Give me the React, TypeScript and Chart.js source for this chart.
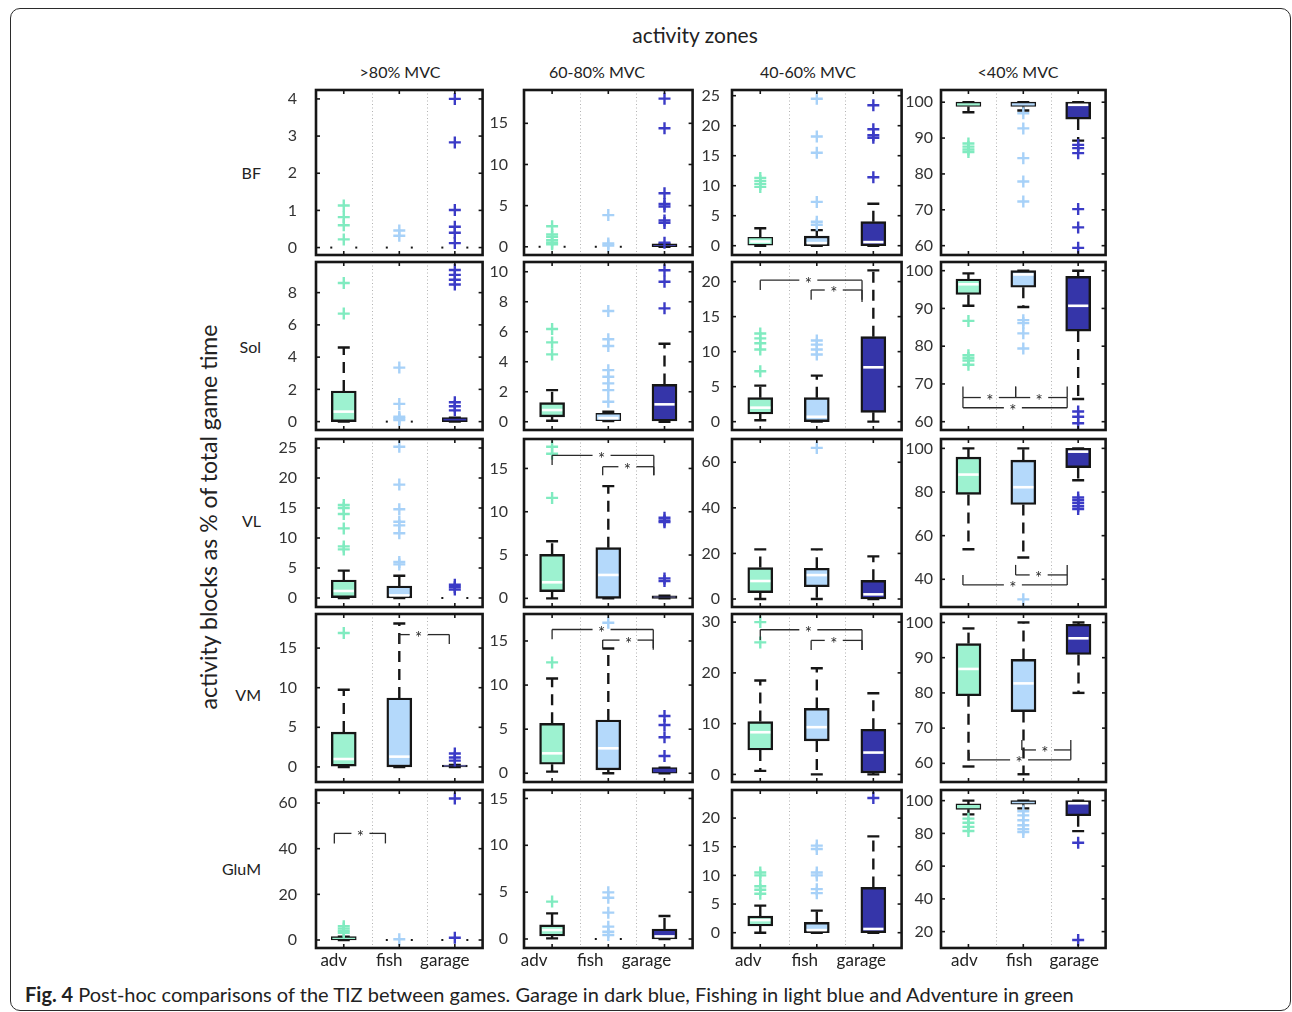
import { useEffect, useRef } from 'react';
import { Chart, registerables } from 'chart.js';

Chart.register(...registerables);

const FONT = 'Lato';

// names
const GAMES = ['adv', 'fish', 'garage'];
const ZONES = ['>80% MVC', '60-80% MVC', '40-60% MVC', '<40% MVC'];
const MUSCLES = ['BF', 'Sol', 'VL', 'VM', 'GluM'];

// box stats per game: [lower whisker, q1, median, q3, upper whisker]
// outliers per game; significance brackets: [x1, x2, level, leg end 1, leg end 2, star x]

// BF
const BF_Y = [[-0.2, 4.24], [-1.0, 19.05], [-1.55, 25.95], [57.4, 103.4]];
const BF_TICKS = [[0, 1, 2, 3, 4], [0, 5, 10, 15], [0, 5, 10, 15, 20, 25], [60, 70, 80, 90, 100]];
const BF_Z80_BOX = [[0, 0, 0, 0, 0], [0, 0, 0, 0, 0], [0, 0, 0, 0, 0]];
const BF_Z80_OUT = [[1.13, 0.82, 0.6, 0.22], [0.46, 0.32], [4.0, 2.83, 1.01, 0.56, 0.4, 0.12]];
const BF_Z60_BOX = [[0, 0, 0, 0, 0], [0, 0, 0, 0, 0], [0, 0, 0.05, 0.35, 0.35]];
const BF_Z60_OUT = [[2.5, 1.5, 1.2, 0.8, 0.5, 0.3], [3.85, 0.4, 0.15], [18.0, 14.4, 6.5, 5.2, 4.9, 3.2, 2.9, 0.5]];
const BF_Z40_BOX = [[0, 0.1, 0.7, 1.4, 2.9], [0, 0, 0.1, 1.6, 2.6], [0, 0, 0.6, 4.0, 7.0]];
const BF_Z40_OUT = [[11.3, 10.8, 10.3, 9.8], [24.5, 18.2, 15.5, 7.3, 4.0, 3.5], [23.4, 19.4, 18.4, 18.0, 11.4]];
const BF_ZL_BOX = [[97.2, 98.8, 99.6, 100, 100], [97.7, 98.8, 99.7, 100, 100], [89.3, 95.3, 99.3, 100, 100]];
const BF_ZL_OUT = [[88.5, 87.6, 86.8, 86.1], [96.9, 92.7, 84.4, 77.9, 72.3], [88.1, 87.2, 85.8, 70.2, 65.1, 59.4]];

// Sol
const SOL_Y = [[-0.52, 9.9], [-0.55, 10.65], [-1.19, 22.8], [57.8, 102.3]];
const SOL_TICKS = [[0, 2, 4, 6, 8], [0, 2, 4, 6, 8, 10], [0, 5, 10, 15, 20], [60, 70, 80, 90, 100]];
const SOL_Z80_BOX = [[0, 0, 0.62, 1.9, 4.6], [0, 0, 0, 0, 0], [0, 0, 0.05, 0.25, 0.25]];
const SOL_Z80_OUT = [[8.6, 6.7], [3.35, 1.1, 0.3, 0.2, 0.1], [9.4, 9.1, 8.8, 8.5, 1.2, 0.95, 0.7]];
const SOL_Z60_BOX = [[0.07, 0.33, 0.78, 1.27, 2.11], [0.05, 0.07, 0.12, 0.56, 0.67], [0, 0.05, 1.16, 2.49, 5.2]];
const SOL_Z60_OUT = [[6.18, 5.29, 4.49], [7.38, 5.5, 5.05, 3.44, 3.0, 2.56, 2.11, 1.33], [10.1, 9.33, 7.56]];
const SOL_Z40_BOX = [[0.2, 1.1, 2.0, 3.43, 5.14], [0, 0, 0.7, 3.43, 6.57], [0, 1.33, 7.76, 12.14, 21.6]];
const SOL_Z40_OUT = [[12.6, 11.9, 11.2, 10.3, 7.2], [11.6, 11.0, 10.3, 9.6], []];
const SOL_Z40_SIG = [[1, 2.8, 20.2, 18.8, 17.1, 1.85], [1.9, 2.8, 18.8, 17.4, 17.4, 2.3]];
const SOL_ZL_BOX = [[90.7, 93.7, 96.4, 97.8, 99.3], [90.4, 95.6, 99.0, 100, 100], [66, 84.0, 90.7, 98.5, 100]];
const SOL_ZL_OUT = [[86.7, 77.6, 76.9, 76.2, 75.1], [86.9, 86.1, 83.4, 79.4], [62.7, 61.3, 59.6]];
const SOL_ZL_SIG = [[0.9, 1.86, 66.4, 69.3, 69.3, 1.39], [1.86, 2.8, 66.4, 69.3, 69.3, 2.29], [0.9, 2.8, 63.7, 66.4, 66.4, 1.81]];

// VL
const VL_Y = [[-1.5, 26.5], [-1.0, 18.4], [-3.5, 70.2], [27.3, 104.3]];
const VL_TICKS = [[0, 5, 10, 15, 20, 25], [0, 5, 10, 15], [0, 20, 40, 60], [40, 60, 80, 100]];
const VL_Z80_BOX = [[0, 0.06, 1.17, 3.0, 4.56], [0, 0, 0.4, 2.0, 3.7], [0, 0, 0, 0, 0]];
const VL_Z80_OUT = [[15.5, 15.0, 14.0, 11.6, 8.6, 8.1], [25.2, 18.9, 14.8, 12.7, 12.1, 10.8, 6.0, 5.6], [2.2, 1.8, 1.4]];
const VL_Z60_BOX = [[0, 0.77, 1.85, 5.08, 6.6], [0, 0, 2.7, 5.85, 12.96], [0, 0, 0.1, 0.3, 0.3]];
const VL_Z60_OUT = [[17.5, 16.7, 11.6], [], [9.3, 9.0, 8.8, 2.3, 2.0]];
const VL_Z60_SIG = [[1, 2.81, 16.5, 15.4, 14.2, 1.88], [1.9, 2.81, 15.2, 14.2, 14.2, 2.34]];
const VL_Z40_BOX = [[0, 2.8, 7.9, 13.8, 21.8], [0, 5.4, 10.5, 13.5, 21.8], [0, 0, 2.05, 8.2, 18.7]];
const VL_Z40_OUT = [[], [66.3], []];
const VL_ZL_BOX = [[53.8, 78.9, 88.0, 96.0, 100], [50, 74.3, 82.2, 94.6, 100], [85.4, 91.2, 98.5, 100, 100]];
const VL_ZL_OUT = [[], [30.8], [77.5, 76.2, 74.9, 73.5, 72.2]];
const VL_ZL_SIG = [[1.86, 2.8, 42, 46.6, 46.6, 2.28], [0.9, 2.8, 37.4, 42, 42, 1.81]];

// VM
const VM_Y = [[-1.9, 19.3], [-0.99, 18.06], [-1.5, 31.6], [54.7, 102.4]];
const VM_TICKS = [[0, 5, 10, 15], [0, 5, 10, 15], [0, 10, 20, 30], [60, 70, 80, 90, 100]];
const VM_Z80_BOX = [[0, 0.1, 1.0, 4.4, 9.75], [0, 0, 1.3, 8.7, 18.1], [0, 0, 0.1, 0.25, 0.25]];
const VM_Z80_OUT = [[16.9], [], [1.7, 1.2, 0.8]];
const VM_Z80_SIG = [[2, 2.9, 16.7, 15.5, 15.5, 2.35]];
const VM_Z60_BOX = [[0.19, 1.02, 2.26, 5.66, 10.75], [0, 0.38, 2.83, 6.04, 14.15], [0, 0, 0.2, 0.64, 0.64]];
const VM_Z60_OUT = [[12.57], [17.06], [6.49, 5.47, 4.08, 1.96]];
const VM_Z60_SIG = [[1, 2.8, 16.3, 15.2, 14.0, 1.88], [1.9, 2.8, 15.1, 14.2, 14.2, 2.36]];
const VM_Z40_BOX = [[0.7, 4.8, 8.3, 10.4, 18.5], [0, 6.6, 9.3, 13.0, 20.9], [0, 0.3, 4.3, 8.9, 16.0]];
const VM_Z40_OUT = [[30, 26], [], []];
const VM_Z40_SIG = [[1, 2.8, 28.5, 26.5, 24.5, 1.85], [1.9, 2.8, 26.4, 24.5, 24.5, 2.3]];
const VM_ZL_BOX = [[59.1, 79.2, 86.8, 94.0, 98.3], [56.9, 74.7, 82.7, 89.5, 100], [80, 90.9, 95.5, 99.5, 100]];
const VM_ZL_OUT = [[], [], []];
const VM_ZL_SIG = [[1.97, 2.86, 63.8, 66.6, 66.6, 2.39], [1.01, 2.86, 61.0, 63.0, 63.8, 1.92]];

// GluM
const GLUM_Y = [[-3.5, 65.7], [-0.96, 15.9], [-2.67, 24.9], [10, 106.5]];
const GLUM_TICKS = [[0, 20, 40, 60], [0, 5, 10, 15], [0, 5, 10, 15, 20], [20, 40, 60, 80, 100]];
const GLUM_Z80_BOX = [[0, 0, 0.5, 1.5, 1.5], [0, 0, 0, 0, 0], [0, 0, 0, 0, 0]];
const GLUM_Z80_OUT = [[6.0, 5.0, 4.0, 3.2], [0.3], [62, 1.0]];
const GLUM_Z80_SIG = [[0.83, 1.75, 46.7, 42.3, 42.3, 1.3]];
const GLUM_Z60_BOX = [[0.07, 0.32, 0.96, 1.5, 2.74], [0, 0, 0, 0, 0], [0, 0, 0.05, 1.07, 2.46]];
const GLUM_Z60_OUT = [[3.99], [4.98, 4.41, 2.81, 1.32, 0.78, 0.43], []];
const GLUM_Z40_BOX = [[0, 1.17, 2.2, 2.9, 4.72], [0, 0, 0.1, 1.8, 3.85], [0, 0, 0.65, 7.9, 16.8]];
const GLUM_Z40_OUT = [[10.5, 10.0, 8.1, 7.5, 6.8], [15.2, 14.6, 10.5, 10.0, 7.6, 6.9], [23.5]];
const GLUM_ZL_BOX = [[91.6, 94.7, 96.3, 98, 100], [95.3, 97.8, 98.5, 100, 100], [81.4, 90.8, 99, 100, 100]];
const GLUM_ZL_OUT = [[89, 86.5, 84, 81.5], [93.5, 91, 88, 85, 82.5, 80.8], [74.3, 14.9]];

const PANEL_BOX = [
  [BF_Z80_BOX, BF_Z60_BOX, BF_Z40_BOX, BF_ZL_BOX],
  [SOL_Z80_BOX, SOL_Z60_BOX, SOL_Z40_BOX, SOL_ZL_BOX],
  [VL_Z80_BOX, VL_Z60_BOX, VL_Z40_BOX, VL_ZL_BOX],
  [VM_Z80_BOX, VM_Z60_BOX, VM_Z40_BOX, VM_ZL_BOX],
  [GLUM_Z80_BOX, GLUM_Z60_BOX, GLUM_Z40_BOX, GLUM_ZL_BOX],
];
const PANEL_OUT = [
  [BF_Z80_OUT, BF_Z60_OUT, BF_Z40_OUT, BF_ZL_OUT],
  [SOL_Z80_OUT, SOL_Z60_OUT, SOL_Z40_OUT, SOL_ZL_OUT],
  [VL_Z80_OUT, VL_Z60_OUT, VL_Z40_OUT, VL_ZL_OUT],
  [VM_Z80_OUT, VM_Z60_OUT, VM_Z40_OUT, VM_ZL_OUT],
  [GLUM_Z80_OUT, GLUM_Z60_OUT, GLUM_Z40_OUT, GLUM_ZL_OUT],
];
const PANEL_SIG = [
  [[], [], [], []],
  [[], [], SOL_Z40_SIG, SOL_ZL_SIG],
  [[], VL_Z60_SIG, [], VL_ZL_SIG],
  [VM_Z80_SIG, VM_Z60_SIG, VM_Z40_SIG, VM_ZL_SIG],
  [GLUM_Z80_SIG, [], [], []],
];
const PANEL_Y = [BF_Y, SOL_Y, VL_Y, VM_Y, GLUM_Y];
const PANEL_TICKS = [BF_TICKS, SOL_TICKS, VL_TICKS, VM_TICKS, GLUM_TICKS];

// layout of the panel grid (frame edges in page pixels)
const FRAME_X = [[316, 483], [524, 693], [732, 902], [941, 1106]];
const FRAME_Y = [[90, 255], [262, 430], [439, 607], [614, 782], [790, 948]];
const X_LABEL_SHIFT = [-10, -18, -12, -4];
const Y_LABEL_GAP = [19, 16, 12, 8];
const PAD_L = 50;
const PAD_T = 30;
const PAD_R = 8;
const PAD_B = 30;
const XAXIS_H = 32;
const BOX_PX = 25;

const BOX_FILL = ['#9df2d0', '#b4d9fb', '#3535a9'];
const MARK_COLOR = ['#80ebc0', '#a7d1f8', '#3b3bc6'];
const INK = '#161616';

function seg(ctx: CanvasRenderingContext2D, x1: number, y1: number, x2: number, y2: number) {
  ctx.beginPath();
  ctx.moveTo(x1, y1);
  ctx.lineTo(x2, y2);
  ctx.stroke();
}

const boxDecor = {
  id: 'boxDecor',
  beforeDatasetsDraw(chart: any, _args: any, o: any) {
    const { ctx, chartArea: a } = chart;
    const xs = chart.scales.x;
    const ys = chart.scales.y;
    ctx.save();
    ctx.beginPath();
    ctx.rect(a.left, a.top, a.width, a.height);
    ctx.clip();
    // dotted dividers between games
    ctx.strokeStyle = '#b3b3b3';
    ctx.lineWidth = 1;
    ctx.setLineDash([1, 2.5]);
    [1.5, 2.5].forEach((v) => {
      const px = Math.round(xs.getPixelForValue(v)) + 0.5;
      seg(ctx, px, a.top, px, a.bottom);
    });
    // whiskers and caps
    ctx.strokeStyle = INK;
    ctx.fillStyle = INK;
    ctx.lineWidth = 2.4;
    (o.box as number[][]).forEach((s, i) => {
      const [lo, q1, , q3, hi] = s;
      const cx = xs.getPixelForValue(i + 1);
      if (q1 === q3 && lo === hi) {
        const py = ys.getPixelForValue(q1);
        ctx.fillRect(cx - BOX_PX / 2 - 1, py - 1, 2, 2);
        ctx.fillRect(cx + BOX_PX / 2 - 1, py - 1, 2, 2);
        return;
      }
      ctx.setLineDash([11, 7]);
      if (hi > q3) seg(ctx, cx, ys.getPixelForValue(q3), cx, ys.getPixelForValue(hi));
      if (lo < q1) seg(ctx, cx, ys.getPixelForValue(q1), cx, ys.getPixelForValue(lo));
      ctx.setLineDash([]);
      [lo, hi].forEach((v) => {
        const py = ys.getPixelForValue(v);
        seg(ctx, cx - 6, py, cx + 6, py);
      });
    });
    ctx.restore();
  },
  afterDatasetsDraw(chart: any, _args: any, o: any) {
    const { ctx, chartArea: a } = chart;
    const xs = chart.scales.x;
    const ys = chart.scales.y;
    ctx.save();
    // medians
    ctx.strokeStyle = '#ffffff';
    ctx.lineWidth = 2.6;
    (o.box as number[][]).forEach((s, i) => {
      const [, q1, md, q3] = s;
      if (q1 === q3) return;
      const top = ys.getPixelForValue(q3) + 2.6;
      const bot = ys.getPixelForValue(q1) - 2.6;
      if (bot - top < 2) return;
      const py = Math.min(bot, Math.max(top, ys.getPixelForValue(md)));
      const cx = xs.getPixelForValue(i + 1);
      seg(ctx, cx - BOX_PX / 2 + 2.4, py, cx + BOX_PX / 2 - 2.4, py);
    });
    // frame
    ctx.strokeStyle = INK;
    ctx.lineWidth = 2.6;
    ctx.strokeRect(a.left, a.top, a.width, a.height);
    // inner tick marks
    ctx.lineWidth = 1.6;
    (o.ticks as number[]).forEach((v) => {
      const py = ys.getPixelForValue(v);
      seg(ctx, a.left, py, a.left + 4, py);
      seg(ctx, a.right - 4, py, a.right, py);
    });
    [1, 2, 3].forEach((v) => {
      const px = xs.getPixelForValue(v);
      seg(ctx, px, a.top, px, a.top + 4);
      seg(ctx, px, a.bottom - 4, px, a.bottom);
    });
    // significance brackets
    ctx.strokeStyle = '#2a2a2a';
    ctx.fillStyle = '#2a2a2a';
    ctx.lineWidth = 1.3;
    ctx.font = `17px ${FONT}`;
    ctx.textAlign = 'center';
    ctx.textBaseline = 'middle';
    (o.sig as number[][]).forEach(([x1, x2, lvl, e1, e2, sx]) => {
      const p1 = xs.getPixelForValue(x1);
      const p2 = xs.getPixelForValue(x2);
      const py = ys.getPixelForValue(lvl);
      const ps = xs.getPixelForValue(sx);
      seg(ctx, p1, ys.getPixelForValue(e1), p1, py);
      seg(ctx, p1, py, ps - 9, py);
      seg(ctx, ps + 9, py, p2, py);
      seg(ctx, p2, py, p2, ys.getPixelForValue(e2));
      ctx.fillText('*', ps, py + 4);
    });
    ctx.restore();
  },
};

// thin boxes get a lighter outline so they do not turn solid black
function boxBorder(c: any) {
  const r = c.raw;
  if (!r) return 2.4;
  const ys = c.chart.scales.y;
  const hpx = Math.abs(ys.getPixelForValue(r.y[0]) - ys.getPixelForValue(r.y[1]));
  return hpx < 8 ? 1.4 : 2.4;
}

function Panel({ row, col }: { row: number; col: number }) {
  const ref = useRef<HTMLCanvasElement>(null);
  const last = row === MUSCLES.length - 1;
  const [L, R] = FRAME_X[col];
  const [T, B] = FRAME_Y[row];
  const w = PAD_L + (R - L) + PAD_R;
  const h = PAD_T + (B - T) + (last ? XAXIS_H : PAD_B);

  useEffect(() => {
    const canvas = ref.current as HTMLCanvasElement;
    const box = PANEL_BOX[row][col];
    const out = PANEL_OUT[row][col];
    const sig = PANEL_SIG[row][col];
    const [ymin, ymax] = PANEL_Y[row][col];
    const yticks = PANEL_TICKS[row][col];
    const boxes = box
      .map((s, i) => ({ x: i + 1, y: [s[1], s[3]] }))
      .filter((d) => d.y[0] !== d.y[1]);
    const points = out.flatMap((list, i) => list.map((v) => ({ x: i + 1, y: v })));

    const chart = new Chart(canvas, {
      type: 'bar',
      data: {
        datasets: [
          {
            type: 'scatter',
            data: points,
            order: 0,
            pointStyle: 'cross',
            pointRadius: 6,
            pointHoverRadius: 6,
            pointBorderWidth: 2.4,
            pointBorderColor: (c: any) => MARK_COLOR[(c.raw?.x ?? 1) - 1],
            pointBackgroundColor: 'rgba(0,0,0,0)',
          },
          {
            type: 'bar',
            data: boxes,
            order: 1,
            backgroundColor: (c: any) => BOX_FILL[(c.raw?.x ?? 1) - 1],
            borderColor: INK,
            borderWidth: boxBorder,
            borderSkipped: false,
            barThickness: BOX_PX,
          },
        ],
      } as any,
      options: {
        animation: false,
        responsive: false,
        maintainAspectRatio: false,
        events: [],
        layout: { padding: { left: 0, top: PAD_T, right: PAD_R, bottom: last ? 0 : PAD_B } },
        plugins: {
          legend: { display: false },
          tooltip: { enabled: false },
          boxDecor: { box, sig, ticks: yticks },
        } as any,
        scales: {
          x: {
            type: 'linear',
            min: 0.5,
            max: 3.5,
            offset: false,
            display: last,
            grid: { display: false, drawTicks: false },
            border: { display: false },
            afterBuildTicks: (s: any) => {
              s.ticks = [1, 2, 3].map((v) => ({ value: v }));
            },
            afterFit: (s: any) => {
              s.height = last ? XAXIS_H : 0;
            },
            ticks: {
              autoSkip: false,
              maxRotation: 0,
              padding: 2,
              labelOffset: X_LABEL_SHIFT[col],
              color: '#222',
              font: { family: FONT, size: 17 },
              callback: (v: any) => GAMES[Number(v) - 1] ?? '',
            },
          },
          y: {
            type: 'linear',
            min: ymin,
            max: ymax,
            beginAtZero: false,
            grid: { display: false, drawTicks: false },
            border: { display: false },
            afterBuildTicks: (s: any) => {
              s.ticks = yticks.map((v) => ({ value: v }));
            },
            afterFit: (s: any) => {
              s.width = PAD_L;
            },
            ticks: {
              padding: Y_LABEL_GAP[col],
              color: '#333',
              font: { family: FONT, size: 16 },
            },
          },
        } as any,
      },
      plugins: [boxDecor as any],
    });

    // keep the plotting area exactly on the panel frame
    const a = chart.chartArea;
    const dh = B - T - (a.bottom - a.top);
    const dw = R - L - (a.right - a.left);
    if (Math.abs(dh) > 0.5 || Math.abs(dw) > 0.5) chart.resize(w + dw, h + dh);
    const a2 = chart.chartArea;
    canvas.style.left = `${L - a2.left}px`;
    canvas.style.top = `${T - a2.top}px`;

    return () => chart.destroy();
  }, [row, col]);

  return (
    <canvas
      ref={ref}
      width={w}
      height={h}
      style={{ position: 'absolute', left: L - PAD_L, top: T - PAD_T, width: w, height: h }}
    />
  );
}

const HEADER_X = [400, 597, 808, 1018];
const ROW_LABEL_Y = [173, 347, 521, 695, 869];

export default function App() {
  return (
    <div
      style={{
        position: 'absolute',
        left: 0,
        top: 0,
        width: 1292,
        height: 1012,
        background: '#ffffff',
        overflow: 'hidden',
        fontFamily: FONT,
        color: '#222',
      }}
    >
      <div
        style={{
          position: 'absolute',
          left: 10,
          top: 8,
          width: 1281,
          height: 1003,
          border: '1.6px solid #2b2b2b',
          borderRadius: 10,
          boxSizing: 'border-box',
        }}
      />
      <div
        style={{
          position: 'absolute',
          left: 545,
          top: 22,
          width: 300,
          textAlign: 'center',
          fontSize: 21,
          lineHeight: '26px',
        }}
      >
        activity zones
      </div>
      {ZONES.map((z, i) => (
        <div
          key={z}
          style={{
            position: 'absolute',
            left: HEADER_X[i] - 80,
            top: 62,
            width: 160,
            textAlign: 'center',
            fontSize: 16,
            lineHeight: '20px',
          }}
        >
          {z}
        </div>
      ))}
      {MUSCLES.map((m, i) => (
        <div
          key={m}
          style={{
            position: 'absolute',
            left: 200,
            top: ROW_LABEL_Y[i] - 10,
            width: 61,
            textAlign: 'right',
            fontSize: 16,
            lineHeight: '20px',
          }}
        >
          {m}
        </div>
      ))}
      <div
        style={{
          position: 'absolute',
          left: 208 - 260,
          top: 517 - 15,
          width: 520,
          height: 30,
          lineHeight: '30px',
          textAlign: 'center',
          fontSize: 23,
          transform: 'rotate(-90deg)',
          transformOrigin: '50% 50%',
        }}
      >
        activity blocks as % of total game time
      </div>
      {MUSCLES.map((m, r) => ZONES.map((z, c) => <Panel key={`${m}-${z}`} row={r} col={c} />))}
      <div
        style={{
          position: 'absolute',
          left: 25,
          top: 982,
          fontSize: 20,
          lineHeight: '24px',
          whiteSpace: 'nowrap',
        }}
      >
        <b>Fig. 4</b> Post-hoc comparisons of the TIZ between games. Garage in dark blue, Fishing in light blue and
        Adventure in green
      </div>
    </div>
  );
}
